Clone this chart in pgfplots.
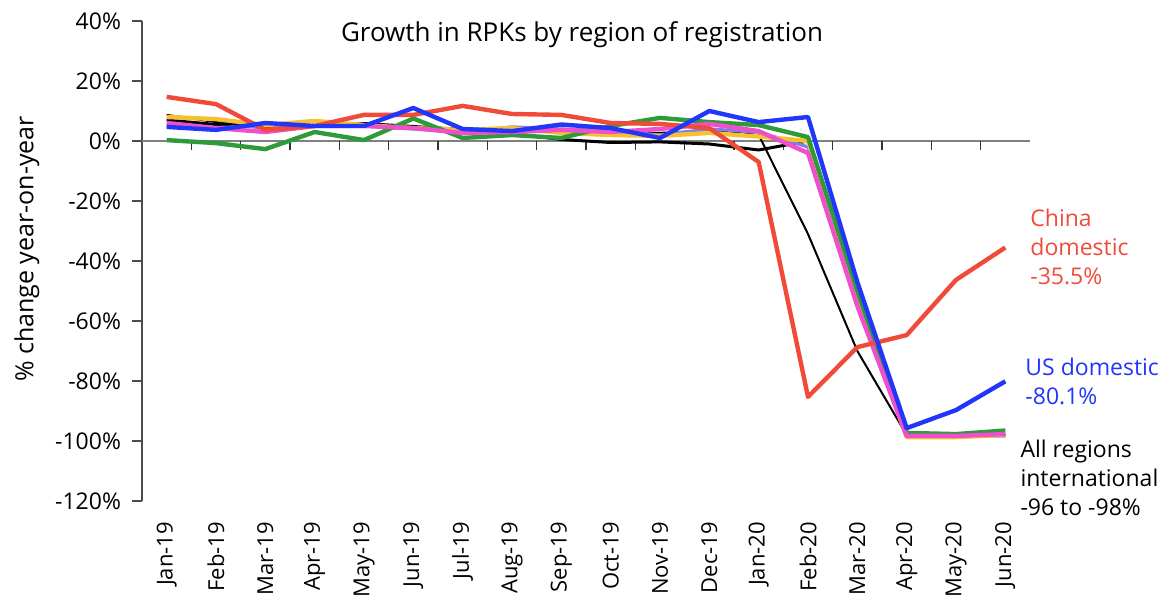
\documentclass[border=0pt]{standalone}
\usepackage{pgfplots}
\pgfplotsset{compat=1.18}
\usepackage{fontspec}
\setmainfont{Open Sans}
\usetikzlibrary{calc}

\definecolor{cred}{HTML}{F04B38}
\definecolor{cblue}{HTML}{2236FA}
\definecolor{cgreen}{HTML}{2F9A3A}
\definecolor{cyellow}{HTML}{F7C030}
\definecolor{cpink}{HTML}{EE50CC}
\definecolor{clav}{HTML}{7F7CF0}
\definecolor{axgray}{HTML}{808080}

% x = month index (0 = Jan-19 ... 17 = Jun-20), y = % change yoy
\pgfplotstableread{
x  china  us     green  yellow pink   blackA blackB lav
0  14.7   4.7    0.3    8.0    6.0    8.7    7.0    5.0
1  12.3   3.7   -0.7    7.3    4.3    6.3    5.5    4.5
2   3.7   6.0   -2.7    5.3    3.0    4.7    4.5    5.0
3   5.0   5.0    3.0    6.7    5.0    4.7    5.0    5.0
4   8.7   5.0    0.3    5.3    5.0    6.0    5.5    5.0
5   8.7  11.0    7.5    4.3    4.3    5.0    4.5    4.0
6  11.7   4.0    1.0    3.7    2.7    4.0    3.5    3.0
7   9.0   3.3    2.0    4.3    3.0    3.5    2.5    4.7
8   8.7   5.5    1.0    2.7    3.7    3.0    0.5    4.0
9   6.0   4.3    5.0    2.0    3.0    3.0   -0.5    3.5
10  5.7   1.0    7.7    1.7    4.0    2.7   -0.3    2.0
11  4.3  10.0    6.3    2.7    5.7    3.5   -1.0    4.0
12 -7.0   6.3    5.3    1.5    3.3    2.0   -3.0    3.0
13 -85.3  8.0    1.3    0.0   -4.0  -31.0    0.0   -2.0
14 -68.7 -47.0  -50.0  -52.0  -55.0  -70.0  -53.0  -52.0
15 -64.7 -95.7  -97.3  -98.7  -98.3  -98.0  -98.0  -98.0
16 -46.3 -89.7  -97.7  -98.7  -98.3  -98.0  -98.0  -98.5
17 -35.5 -80.1  -96.5  -98.0  -97.7  -98.0  -98.0  -98.3
}\rpk

\begin{document}
\begin{tikzpicture}
\begin{axis}[
    scale only axis,
    width=444pt, height=240pt,
    xmin=-0.5, xmax=17.5,
    ymin=-120, ymax=40,
    clip=false,
    axis lines*=left,
    x axis line style={draw=none},
    y axis line style={draw=black!70, line width=0.6pt},
    xtick={0,...,17},
    xticklabels={Jan-19,Feb-19,Mar-19,Apr-19,May-19,Jun-19,Jul-19,Aug-19,Sep-19,Oct-19,Nov-19,Dec-19,Jan-20,Feb-20,Mar-20,Apr-20,May-20,Jun-20},
    x tick label style={rotate=90, anchor=east, font=\fontsize{11}{13}\selectfont, xshift=-2pt},
    major x tick style={draw=none},
    ytick={-120,-100,...,40},
    yticklabels={-120\%,-100\%,-80\%,-60\%,-40\%,-20\%,0\%,20\%,40\%},
    y tick label style={font=\fontsize{11.5}{13}\selectfont, xshift=-2pt},
    major y tick style={draw=black!70, line width=0.6pt},
    tick align=outside,
    major tick length=5pt,
    ylabel={\% change year-on-year},
    ylabel style={font=\fontsize{12.5}{14}\selectfont, yshift=1pt, xshift=6pt},
    every axis plot/.append style={line width=2.2pt, line join=round},
]
\draw[axgray, line width=1pt] (axis cs:-0.5,0) -- (axis cs:17.5,0);
\pgfplotsinvokeforeach{0.5,1.5,2.5,3.5,4.5,5.5,6.5,7.5,8.5,9.5,10.5,11.5,12.5,13.5,14.5,15.5,16.5}{
    \draw[black!80, line width=0.6pt] (axis cs:#1,0) -- (axis cs:#1,-3);
}

\addplot[black, line width=1.5pt] table[x=x, y=blackB] {\rpk};
\addplot[black, line width=1pt] table[x=x, y=blackA] {\rpk};
\addplot[clav, line width=1.6pt] table[x=x, y=lav] {\rpk};
\addplot[cyellow] table[x=x, y=yellow] {\rpk};
\addplot[cgreen] table[x=x, y=green] {\rpk};
\addplot[cpink] table[x=x, y=pink] {\rpk};
\addplot[cred] table[x=x, y=china] {\rpk};
\addplot[cblue] table[x=x, y=us] {\rpk};

\node[font=\fontsize{13}{15}\selectfont] at (axis description cs:0.4955,0.971)
    {Growth in RPKs by region of registration};
\node[cred, anchor=west, align=left, inner sep=0pt, font=\fontsize{11.5}{14.5}\selectfont]
    at (axis cs:17.5,-35.3) {China\\domestic\\-35.5\%};
\node[cblue, anchor=west, align=left, inner sep=0pt, font=\fontsize{11.5}{14.5}\selectfont]
    at (axis cs:17.4,-80.3) {US domestic\\-80.1\%};
\node[black, anchor=west, align=left, inner sep=0pt, font=\fontsize{11.5}{14.5}\selectfont]
    at (axis cs:17.3,-112.3) {All regions\\international\\-96 to -98\%};

\coordinate (sw) at (rel axis cs:0,0);
\coordinate (ne) at (rel axis cs:1,1);
\end{axis}
\pgfresetboundingbox
\path[use as bounding box] ($(sw)+(-71pt,-52.5pt)$) rectangle ($(ne)+(71.5pt,10.5pt)$);
\end{tikzpicture}
\end{document}
